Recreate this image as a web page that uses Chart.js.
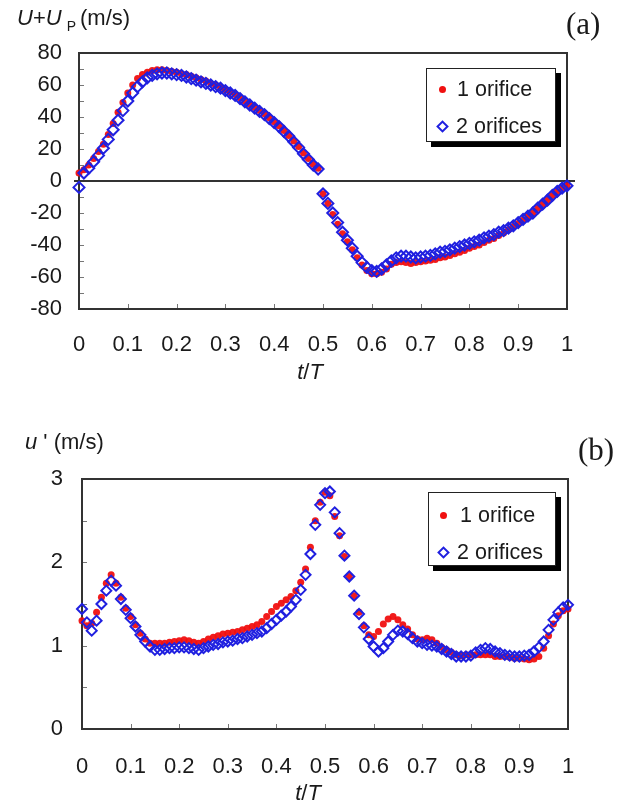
<!DOCTYPE html>
<html><head><meta charset="utf-8">
<script src="https://cdn.jsdelivr.net/npm/chart.js@4.4.0/dist/chart.umd.min.js"></script>
<style>
body{margin:0;background:#fff;}
#wrap{position:relative;width:623px;height:805px;overflow:hidden;font-family:Arial,"Liberation Sans",sans-serif;color:#1a1a1a;}
canvas{position:absolute;left:0;}
.t{position:absolute;white-space:nowrap;line-height:22px;font-size:22px;}
.serif{font-family:"Times New Roman","Liberation Serif",serif;font-size:31px;line-height:31px;}
.leg{position:absolute;background:#fff;border:1.5px solid #222;box-shadow:5px 5px 0 #000;box-sizing:border-box;}
.leg .row{position:absolute;left:0;height:24px;line-height:24px;font-size:21.5px;white-space:nowrap;}
.dot{position:absolute;width:7px;height:7px;border-radius:50%;background:#f01010;}
.dia{position:absolute;width:9px;height:9px;border:2px solid #2020e0;transform:rotate(45deg);box-sizing:border-box;}
</style></head>
<body>
<div id="wrap">
  <canvas id="c1" width="623" height="400" style="top:0"></canvas>
  <canvas id="c2" width="623" height="405" style="top:400px"></canvas>

  <div class="t" style="left:17px;top:7px;"><i>U</i>+<i>U</i><span style="font-size:14px;position:relative;top:6px;margin-left:5px;margin-right:4px;">P</span>(m/s)</div>
  <div class="t serif" style="left:566px;top:8px;">(a)</div>
  <div class="t" style="left:310px;top:361px;transform:translateX(-50%);"><i>t</i>/<i>T</i></div>

  <div class="t" style="left:25px;top:431px;"><i>u</i> ' (m/s)</div>
  <div class="t serif" style="left:578px;top:434px;">(b)</div>
  <div class="t" style="left:308px;top:782px;transform:translateX(-50%);"><i>t</i>/<i>T</i></div>

  <div class="leg" style="left:426px;top:68px;width:130px;height:74px;">
    <div class="dot" style="left:12px;top:17px;"></div><div class="row" style="left:30px;top:8px;">1 orifice</div>
    <div class="dia" style="left:11px;top:53px;"></div><div class="row" style="left:29px;top:45px;">2 orifices</div>
  </div>
  <div class="leg" style="left:428px;top:492px;width:128px;height:74px;">
    <div class="dot" style="left:11px;top:19px;"></div><div class="row" style="left:31px;top:10px;">1 orifice</div>
    <div class="dia" style="left:10px;top:55px;"></div><div class="row" style="left:28px;top:47px;">2 orifices</div>
  </div>
</div>
<script>
// phase t/T
const tPhase = [0,0.01,0.02,0.03,0.04,0.05,0.06,0.07,0.08,0.09,0.1,0.11,0.12,0.13,0.14,0.15,0.16,0.17,0.18,0.19,0.2,
0.21,0.22,0.23,0.24,0.25,0.26,0.27,0.28,0.29,0.3,0.31,0.32,0.33,0.34,0.35,0.36,0.37,0.38,0.39,0.4,
0.41,0.42,0.43,0.44,0.45,0.46,0.47,0.48,0.49,0.5,0.51,0.52,0.53,0.54,0.55,0.56,0.57,0.58,0.59,0.6,
0.61,0.62,0.63,0.64,0.65,0.66,0.67,0.68,0.69,0.7,0.71,0.72,0.73,0.74,0.75,0.76,0.77,0.78,0.79,0.8,
0.81,0.82,0.83,0.84,0.85,0.86,0.87,0.88,0.89,0.9,0.91,0.92,0.93,0.94,0.95,0.96,0.97,0.98,0.99,1];

// (a) U+Up (m/s)
const velOne = [5,7,10,14,18.5,23,29,36,43,49,55,60,64,66.5,68,69,69.5,69.5,69,68.5,68,
67,66.5,65.5,64.5,63.5,62.5,61,60,58.5,57,55.5,54,52,50,48,46,44,42,39.5,37,
34.5,31.5,28.5,25,21.5,17.5,14,10.5,8,-8,-14,-21,-27,-33,-38,-43,-48,-52.5,-56,-58,
-58,-57,-55,-52,-51,-50.5,-51,-51.5,-51,-50.5,-50,-49.5,-49,-48,-47.5,-46.5,-45.5,-44.5,-43.5,-42,
-41,-40,-38.5,-37,-36,-34,-32.5,-30.5,-28.5,-26.5,-24.5,-22,-20,-17,-14.5,-12,-9,-6.5,-4.5,-3];
const velTwo = [-4,5,8,12,16,20.5,26,32,38,44,50,55,59,62,64.5,66,67,67.5,67.5,67,66.5,
66,65,64,63,62,61,60,59,58,56.5,55,53.5,51.5,49.5,47.5,45.5,43.5,41.5,39,36.5,
34,31,28,24.5,21,17,13.5,10,7.5,-8,-14,-20,-26,-32,-37,-42,-47,-51,-54,-56,
-56.5,-55,-52.5,-50,-48,-47,-47,-47.5,-48,-47.5,-47,-46.5,-45.5,-44.5,-44,-43,-42,-41,-40,-39,
-38,-37,-35.5,-34.5,-33.5,-32,-31,-29.5,-28,-26,-24,-22,-20,-17,-14.5,-12,-9,-6.5,-4.5,-3];

// (b) u' (m/s)
const rmsOne = [1.30,1.24,1.27,1.40,1.58,1.75,1.85,1.75,1.58,1.45,1.35,1.25,1.15,1.08,1.03,1.03,1.03,1.03,1.04,1.05,1.06,
1.07,1.06,1.04,1.03,1.05,1.08,1.10,1.12,1.14,1.15,1.16,1.17,1.19,1.21,1.23,1.25,1.29,1.35,1.41,1.47,
1.51,1.55,1.59,1.66,1.76,1.92,2.18,2.5,2.72,2.84,2.8,2.55,2.32,2.07,1.83,1.6,1.4,1.24,1.13,1.11,
1.17,1.26,1.32,1.35,1.31,1.25,1.2,1.13,1.08,1.07,1.09,1.07,1.03,0.98,0.95,0.92,0.89,0.88,0.89,0.89,
0.89,0.89,0.89,0.89,0.87,0.87,0.87,0.86,0.85,0.85,0.84,0.83,0.84,0.87,0.97,1.12,1.26,1.36,1.42,1.44];
const rmsTwo = [1.44,1.28,1.18,1.30,1.50,1.66,1.78,1.72,1.56,1.43,1.33,1.23,1.13,1.05,0.99,0.95,0.95,0.96,0.97,0.97,0.98,
0.98,0.97,0.96,0.95,0.97,0.99,1.01,1.02,1.04,1.05,1.06,1.08,1.09,1.11,1.13,1.15,1.17,1.21,1.26,1.31,
1.36,1.41,1.47,1.55,1.67,1.85,2.1,2.45,2.69,2.83,2.85,2.6,2.35,2.08,1.83,1.6,1.38,1.22,1.08,0.99,
0.93,0.97,1.05,1.13,1.18,1.17,1.14,1.09,1.05,1.03,1.01,1.00,0.99,0.96,0.93,0.90,0.87,0.87,0.87,0.88,
0.92,0.95,0.97,0.96,0.93,0.91,0.89,0.88,0.87,0.87,0.88,0.89,0.93,0.98,1.05,1.19,1.31,1.40,1.46,1.49];

const xTickLabels = ['0','0.1','0.2','0.3','0.4','0.5','0.6','0.7','0.8','0.9','1'];

const pts = arr => arr.map((v,i)=>({x:tPhase[i], y:v}));
const tickFont = {family:'Arial, "Liberation Sans", sans-serif', size:22};

const framePlugin = {
  id:'frame',
  beforeDatasetsDraw(chart, args, opts){
    const {ctx, chartArea:a, scales:{x,y}} = chart;
    ctx.save();
    ctx.strokeStyle='#777'; ctx.lineWidth=1;
    ctx.beginPath();
    x.ticks.forEach(t=>{ const px=Math.round(x.getPixelForValue(t.value))+0.5; if(t.value>0.001 && t.value<0.999){ctx.moveTo(px,a.bottom); ctx.lineTo(px,a.bottom-5);} });
    y.ticks.forEach(t=>{ const py=Math.round(y.getPixelForValue(t.value))+0.5; if(py>a.top+2 && py<a.bottom-2){ctx.moveTo(a.left,py); ctx.lineTo(a.left+5,py);} });
    ctx.stroke();
    ctx.strokeStyle='#333'; ctx.lineWidth=2;
    ctx.strokeRect(a.left, a.top, a.right-a.left, a.bottom-a.top);
    if(opts.zeroLine){
      const py=Math.round(y.getPixelForValue(0));
      ctx.beginPath(); ctx.moveTo(a.left-5,py); ctx.lineTo(a.right+8,py); ctx.stroke();
    }
    ctx.restore();
  }
};

function makeChart(id, one, two, yMin, yMax, yStep, labelEvery, pad, yWidth, xHeight, xPad, yPad, zeroLine, rDia){
  return new Chart(document.getElementById(id), {
    type:'scatter',
    data:{datasets:[
      {label:'1 orifice', data:pts(one), pointStyle:'circle', pointRadius:3.5, pointBackgroundColor:'rgba(240,16,16,0.95)', pointBorderWidth:0, order:1, clip:false},
      {label:'2 orifices', data:pts(two), pointStyle:'rectRot', pointRadius:rDia, pointBackgroundColor:'rgba(0,0,0,0)', pointBorderColor:'#2020e0', pointBorderWidth:2, order:0, clip:false}
    ]},
    options:{
      responsive:false, animation:false, devicePixelRatio:1,
      layout:{padding:pad},
      plugins:{legend:{display:false}, tooltip:{enabled:false}, frame:{zeroLine:zeroLine}},
      scales:{
        x:{type:'linear', min:0, max:1, grid:{display:false, drawTicks:false}, border:{display:false},
           afterFit:s=>{s.height=xHeight;},
           ticks:{stepSize:0.1, padding:xPad, color:'#1a1a1a', font:tickFont, maxRotation:0, autoSkip:false,
             callback:(v)=>{const i=Math.round(v*10); return (Math.abs(v*10-i)<1e-6)? xTickLabels[i] : '';}}},
        y:{type:'linear', min:yMin, max:yMax, grid:{display:false, drawTicks:false}, border:{display:false},
           afterFit:s=>{s.width=yWidth;},
           ticks:{stepSize:yStep, padding:yPad, color:'#1a1a1a', font:tickFont, autoSkip:false,
             callback:(v)=>{const k=Math.round(v/labelEvery); return Math.abs(v-k*labelEvery)<1e-6 ? String(Math.round(v*1000)/1000) : '';}}}
      }
    },
    plugins:[framePlugin]
  });
}

makeChart('c1', velOne, velTwo, -80, 80, 10, 20, {left:0,right:56,top:53,bottom:0}, 79, 91, 23, 17, true, 5.5);
makeChart('c2', rmsOne, rmsTwo, 0, 3, 0.5, 1, {left:0,right:55,top:79,bottom:0}, 82, 76, 25, 19, false, 5);
</script>
</body></html>
